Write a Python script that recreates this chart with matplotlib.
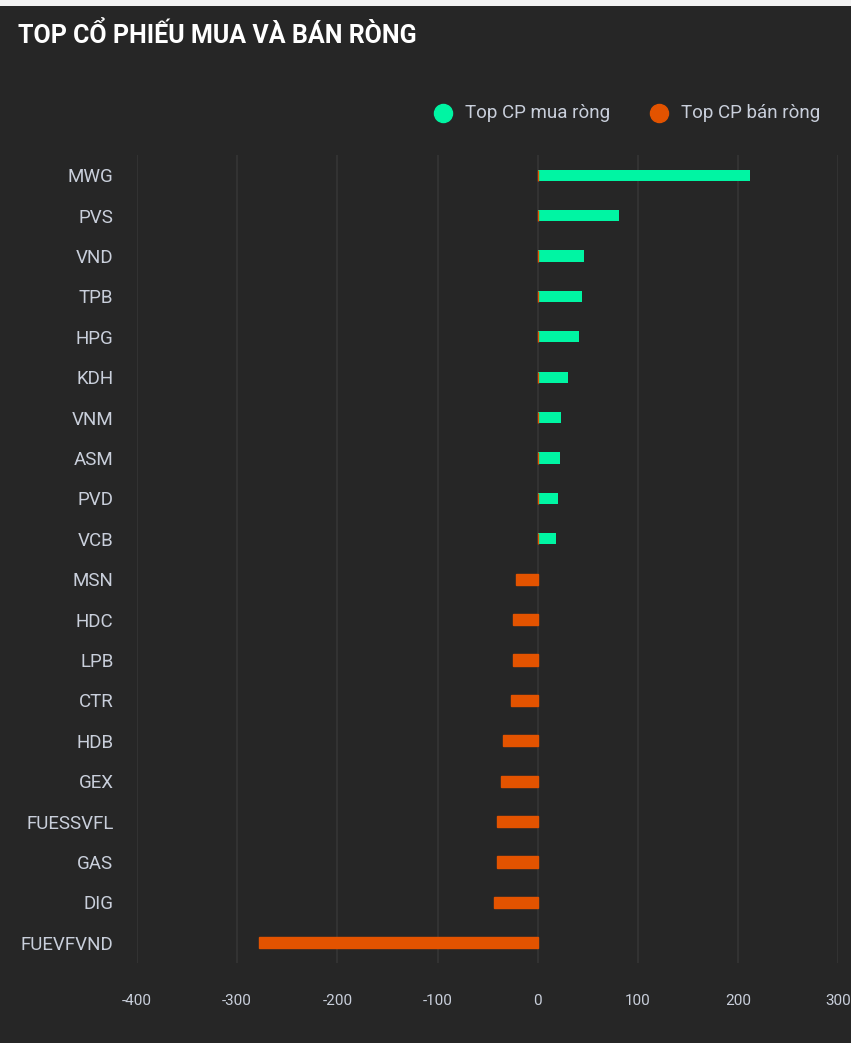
import matplotlib.pyplot as plt
from matplotlib.patches import Rectangle
import numpy as np

plt.rcParams['font.family'] = ['Roboto', 'DejaVu Sans']

tickers = ['MWG', 'PVS', 'VND', 'TPB', 'HPG', 'KDH', 'VNM', 'ASM', 'PVD', 'VCB',
           'MSN', 'HDC', 'LPB', 'CTR', 'HDB', 'GEX', 'FUESSVFL', 'GAS', 'DIG', 'FUEVFVND']
buy_values = [212, 81, 46, 44, 41, 30, 23, 22, 20, 18,
              0, 0, 0, 0, 0, 0, 0, 0, 0, 0]
sell_values = [0, 0, 0, 0, 0, 0, 0, 0, 0, 0,
               -22, -25, -25, -27, -35, -37, -41, -41, -44, -278]
x_ticks = [-400, -300, -200, -100, 0, 100, 200, 300]

bg = '#262626'
green = '#00f5a3'
orange = '#e35300'
text_col = '#c9cfdb'

fig = plt.figure(figsize=(8.51, 10.43), dpi=100, facecolor=bg)
ax = fig.add_axes([0.161, 0.0767, 0.824, 0.7747])
ax.set_facecolor(bg)

# thin light strip along the top edge
fig.patches.append(Rectangle((0, 0.9945), 1, 0.0055, transform=fig.transFigure,
                             facecolor='#f2f2f2', edgecolor='none'))

y = np.arange(len(tickers))
h = 0.28
# buy bars first, sell series on top (zero entries leave a thin sliver at 0)
ax.barh(y, [v if v > 0 else np.nan for v in buy_values], height=h, color=green,
        edgecolor='none', zorder=3)
ax.barh(y, sell_values, height=h, color=orange, edgecolor=orange, linewidth=1.0, zorder=4)

ax.set_xlim(-400, 300)
ax.set_ylim(len(tickers) - 0.5, -0.5)
ax.set_xticks(x_ticks)
ax.set_xticklabels([str(t) for t in x_ticks])
ax.set_yticks(y)
ax.set_yticklabels(tickers)
ax.grid(axis='x', color='#353535', linewidth=1.2, zorder=0)
ax.grid(axis='y', visible=False)
for s in ax.spines.values():
    s.set_visible(False)
ax.tick_params(axis='x', length=0, pad=22, labelsize=11, colors=text_col)
ax.tick_params(axis='y', length=0, pad=17, labelsize=13.5, colors=text_col)

fig.text(0.021, 0.966, 'TOP CỔ PHIẾU MUA VÀ BÁN RÒNG', color='white',
         fontsize=18, fontweight='bold', va='center', ha='left')

# legend
leg_y = 1 - 113 / 1043
fig.lines.append(plt.Line2D([443 / 851], [leg_y], marker='o', markersize=13,
                            color=green, linestyle='none', transform=fig.transFigure))
fig.text(465 / 851, leg_y, 'Top CP mua ròng', color=text_col, fontsize=13.5, va='center')
fig.lines.append(plt.Line2D([659 / 851], [leg_y], marker='o', markersize=13,
                            color=orange, linestyle='none', transform=fig.transFigure))
fig.text(681 / 851, leg_y, 'Top CP bán ròng', color=text_col, fontsize=13.5, va='center')

fig.savefig('out.png', dpi=100, facecolor=bg)
